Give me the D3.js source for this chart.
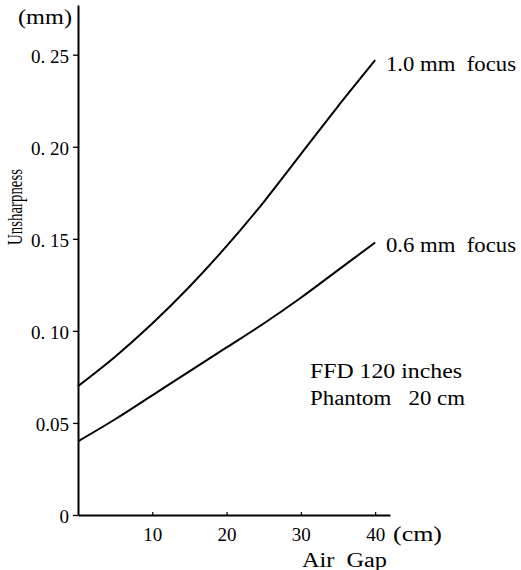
<!DOCTYPE html>
<html>
<head>
<meta charset="utf-8">
<script src="https://cdn.jsdelivr.net/npm/d3@7"></script>
<style>
  body { margin: 0; background: #fff; }
  svg text { font-family: "Liberation Serif", "DejaVu Serif", serif; fill: #000; white-space: pre; }
</style>
</head>
<body>
<div id="chart"></div>
<script>
// values
const airGap = [0, 5, 10, 15, 20, 25, 30, 35, 40];
const focus10 = [0.070, 0.086, 0.104, 0.124, 0.146, 0.170, 0.196, 0.222, 0.247];
const focus06 = [0.040, 0.052, 0.065, 0.078, 0.091, 0.104, 0.118, 0.133, 0.148];
const yTickValues = [0, 0.05, 0.10, 0.15, 0.20, 0.25];
const yTickLabels = ['0', '0.05', '0. 10', '0. 15', '0. 20', '0. 25'];
const xTickValues = [10, 20, 30, 40];

const width = 521, height = 570;

const svg = d3.select('#chart')
  .append('svg')
  .attr('width', width)
  .attr('height', height);

// scales
const x = d3.scaleLinear().domain([0, 42]).range([78, 390]);
const y = d3.scaleLinear().domain([0, 0.277]).range([515, 5]);

// y axis
const yAxis = svg.append('g')
  .attr('transform', `translate(${x(0)},0)`)
  .call(d3.axisLeft(y)
    .tickValues(yTickValues)
    .tickFormat((d, i) => yTickLabels[i])
    .tickSizeInner(5)
    .tickSizeOuter(0)
    .tickPadding(4));
yAxis.select('.domain').attr('stroke', '#000').attr('stroke-width', 2);
yAxis.selectAll('.tick line').attr('stroke', '#000').attr('stroke-width', 1.3);
yAxis.selectAll('.tick text')
  .attr('dy', '0.4em')
  .style('font-size', '19px');

// x axis
const xAxis = svg.append('g')
  .attr('transform', `translate(0,${y(0)})`)
  .call(d3.axisBottom(x)
    .tickValues(xTickValues)
    .tickSizeInner(-3)
    .tickSizeOuter(0)
    .tickPadding(13));
xAxis.select('.domain').attr('stroke', '#000').attr('stroke-width', 2);
xAxis.selectAll('.tick line').attr('stroke', '#000').attr('stroke-width', 1.2);
xAxis.selectAll('.tick text').style('font-size', '19px');

// curves
const line = d3.line()
  .x((d) => x(d[0]))
  .y((d) => y(d[1]))
  .curve(d3.curveCatmullRom.alpha(0.5));

[focus10, focus06].forEach(function (series) {
  svg.append('path')
    .datum(airGap.map((g, i) => [g, series[i]]))
    .attr('d', line)
    .attr('fill', 'none')
    .attr('stroke', '#000')
    .attr('stroke-width', 2);
});

// text labels
function label(txt, tx, ty, size, len, anchor) {
  const t = svg.append('text')
    .attr('x', tx)
    .attr('y', ty)
    .style('font-size', size + 'px')
    .attr('text-anchor', anchor || 'start')
    .text(txt);
  if (len) t.attr('textLength', len).attr('lengthAdjust', 'spacingAndGlyphs');
  return t;
}

label('(mm)', 72, 24, 20, 54, 'end');
label('(cm)', 393, 541, 20, 49);
label('Air  Gap', 302, 567, 20, 85);
label('1.0 mm  focus', 386, 71, 20, 130);
label('0.6 mm  focus', 386, 252, 20, 130);
label('FFD 120 inches', 310, 378, 20, 152);
label('Phantom   20 cm', 310, 405, 20, 155);

svg.append('text')
  .attr('transform', 'translate(22,207) rotate(-90)')
  .attr('text-anchor', 'middle')
  .style('font-size', '20px')
  .attr('textLength', 76)
  .attr('lengthAdjust', 'spacingAndGlyphs')
  .text('Unsharpness');
</script>
</body>
</html>
